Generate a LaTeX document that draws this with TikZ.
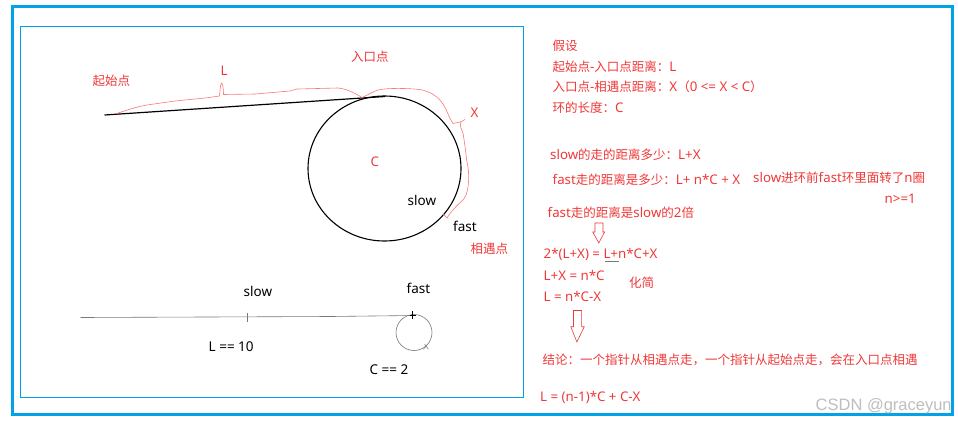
\documentclass[tikz,border=0pt]{standalone}
\usepackage{fontspec}
\setmainfont{Noto Sans}
\newfontfamily\cjk{Noto Sans CJK SC}
\newfontfamily\wmfont{Liberation Sans}
\newcommand\zh[1]{{\cjk\fontsize{12.5}{15}\selectfont#1}}
\definecolor{frameblue}{RGB}{0,162,232}
\definecolor{txtred}{RGB}{240,56,56}
\definecolor{curvered}{RGB}{250,120,120}
\definecolor{lgrey}{RGB}{120,120,120}
\definecolor{wm}{RGB}{190,190,190}
\tikzset{
  rt/.style={anchor=west,inner sep=0pt,text=txtred,font=\fontsize{13.3}{15}\selectfont},
  bt/.style={anchor=west,inner sep=0pt,text=black,font=\fontsize{13.5}{15}\selectfont},
  hollow/.style={draw=txtred,line width=0.6pt,fill=white},
}
\begin{document}
\begin{tikzpicture}[x=1pt,y=-1pt]
\useasboundingbox (0,0) rectangle (958,423);
\fill[white] (0,0) rectangle (958,423);
% frames
\draw[frameblue,line width=3pt] (12.5,6.5) rectangle (952,414.5);
\draw[frameblue,line width=1pt] (20.5,26) rectangle (523,397.5);
% big loop
\coordinate (start) at (104.5,115);
\coordinate (entry) at (385,96.5);
\draw[black,line width=1.2pt] (start) -- (entry);
\draw[black,line width=1.1pt] (384.5,168.5) ellipse [x radius=76.5, y radius=72.5];
% red path
\draw[curvered,line width=0.6pt,line join=round]
  (115,114) .. controls (125,111) and (135,107) .. (147,105)
  -- (175,101) -- (205,98) -- (219.5,96)
  .. controls (220,90) and (220.5,84) .. (221.5,83)
  .. controls (223,84) and (223.5,90) .. (223.5,94.5)
  -- (255,94) -- (290,91) -- (297,89) -- (338,88)
  .. controls (348,89) and (356,94) .. (362,97.5)
  .. controls (366,96) and (372,92) .. (378,90)
  .. controls (386,88) and (405,88) .. (420,89.5)
  .. controls (432,92) and (438,97) .. (443,104)
  .. controls (447,110) and (449,118) .. (453,123.5)
  -- (461,121.8) -- (465,119.5);
\draw[curvered,line width=0.6pt,line join=round]
  (461,121.8) .. controls (459,126) and (462,130) .. (463,133)
  .. controls (465,145) and (466,155) .. (467,162)
  .. controls (469,170) and (469,180) .. (468,187)
  .. controls (467,194) and (465,198) .. (462,201)
  .. controls (456,206) and (450,213) .. (447,218)
  -- (443,214);
% labels on the loop
\node[rt] (qsd) at (92.5,81) {\zh{起始点}};
\node[rt] (lL) at (220.5,71) {L};
\node[rt] (rkd) at (351,57) {\zh{入口点}};
\node[rt] (lX) at (470.5,113) {X};
\node[rt] (lC) at (370.5,162) {C};
\node[bt] (slow1) at (407.5,200) {slow};
\node[bt] (fast1) at (453,226) {fast};
\node[rt] (xyd) at (470.5,249) {\zh{相遇点}};
% bottom small example
\coordinate (b0) at (80.5,317.5);
\coordinate (bm) at (331,316.5);
\coordinate (b1) at (413,315.5);
\draw[lgrey,line width=0.6pt] (b0) -- (bm) -- (b1);
\draw[lgrey,line width=0.6pt] (247.5,313.3) -- (247.5,322.3);
\draw[lgrey,line width=0.6pt] (414,332.5) circle [radius=18];
\draw[black,line width=0.6pt] (412.7,311.3) -- (412.7,318.5) (409.8,315.5) -- (415.8,315.5);
\draw[lgrey,line width=0.5pt] (423.3,349.3) -- (426.5,346) (424.5,344) -- (428.5,349.3);
\node[bt] (slow2) at (243.5,291) {slow};
\node[bt] (fast2) at (406.5,288) {fast};
\node[bt] (L10) at (208.5,347) {L == 10};
\node[bt] (C2) at (369.5,370) {C == 2};
% right text
\node[rt] (t1) at (552.5,46) {\zh{假设}};
\node[rt] (t2) at (552.5,66.7) {\zh{起始点}-\zh{入口点距离：}L};
\node[rt] (t3) at (552.5,86.7) {\zh{入口点}-\zh{相遇点距离：}X\zh{（}0 <= X < C\zh{）}};
\node[rt] (t4) at (552.5,107.3) {\zh{环的长度：}C};
\node[rt] (t5) at (550,154.3) {slow\zh{的走的距离多少：}L+X};
\node[rt] (t6) at (552.5,180) {fast\zh{走的距离是多少：}L+ n*C + X};
\node[rt] (t7) at (753,177.3) {slow\zh{进环前}fast\zh{环里面转了}n\zh{圈}};
\node[rt] (t8) at (884.5,198.3) {n>=1};
\node[rt] (t9) at (547.5,212.3) {fast\zh{走的距离是}slow\zh{的}2\zh{倍}};
\draw[hollow] (595,223) -- (603,223) -- (603,232) -- (604.6,232) -- (598.8,243) -- (592.8,232) -- (595,232) -- cycle;
\node[rt] (e1) at (543.5,254.7) {2*(L+X) = L+n*C+X};
\draw[lgrey,line width=0.7pt] (605,261.5) -- (619,261.5);
\node[rt] (e2) at (543.5,276) {L+X = n*C};
\node[rt] (hj) at (629,282.8) {\zh{化简}};
\node[rt] (e3) at (543.5,297) {L = n*C-X};
\draw[hollow] (573.5,310.5) -- (581.6,310.5) -- (581.6,326.7) -- (584.3,326.7) -- (576.9,342) -- (570.8,326.7) -- (573.5,326.7) -- cycle;
\node[rt] (jl) at (542.5,359.5) {\zh{结论：一个指针从相遇点走，一个指针从起始点走，会在入口点相遇}};
\node[rt] (fin) at (540,397.6) {L = (n-1)*C + C-X};
\node[anchor=west,inner sep=0pt,text=wm,font=\wmfont\fontsize{16.5}{18}\selectfont] (wmk) at (815.5,406.5) {CSDN @graceyun};
\end{tikzpicture}
\end{document}
